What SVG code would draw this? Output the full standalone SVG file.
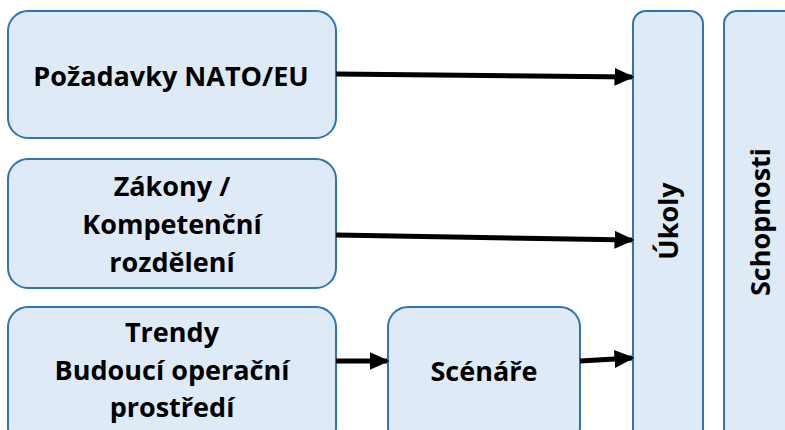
<svg xmlns="http://www.w3.org/2000/svg" width="785" height="430" viewBox="0 0 785 430">
<style>
.box{fill:#DEEAF6;stroke:#2E75B6;stroke-width:2}
.t{font-family:"Open Sans","Liberation Sans",sans-serif;font-weight:bold;font-size:27px;fill:#000;text-anchor:middle}
.c{stroke:#000;stroke-width:5;fill:none;marker-end:url(#ah)}
</style>
<defs>
<marker id="ah" markerWidth="4" markerHeight="3.6" refX="3.5" refY="1.8" orient="auto" markerUnits="strokeWidth" viewBox="0 0 4 3.6">
<path d="M0,0 L4,1.8 L0,3.6 Z" fill="#000"/>
</marker>
</defs>
<rect width="785" height="430" fill="#fff"/>
<g id="n1"><rect class="box" x="8" y="11" width="328" height="127" rx="20"/><text class="t" x="171" y="86">Požadavky NATO/EU</text></g>
<g id="n2"><rect class="box" x="8" y="159" width="328" height="129" rx="20"/><text class="t" x="172" y="196">Zákony /</text><text class="t" x="172" y="234">Kompetenční</text><text class="t" x="172" y="272">rozdělení</text></g>
<g id="n3"><rect class="box" x="8" y="307" width="328" height="140" rx="20"/><text class="t" x="172" y="342">Trendy</text><text class="t" x="172" y="380">Budoucí operační</text><text class="t" x="172" y="417">prostředí</text></g>
<g id="n4"><rect class="box" x="388" y="307" width="192" height="140" rx="20"/><text class="t" x="484" y="381">Scénáře</text></g>
<g id="n5"><rect class="box" x="633" y="11" width="70" height="440" rx="13"/><text class="t" transform="translate(678,221) rotate(-90)" x="0" y="0">Úkoly</text></g>
<g id="n6"><rect class="box" x="724" y="11" width="90" height="440" rx="13"/><text class="t" transform="translate(770,222) rotate(-90)" x="0" y="0">Schopnosti</text></g>
<g id="connectors">
<line class="c" x1="336" y1="74" x2="632" y2="77"/>
<line class="c" x1="336" y1="235" x2="632" y2="240"/>
<line class="c" x1="336" y1="361" x2="387" y2="361"/>
<line class="c" x1="580" y1="361" x2="632" y2="358"/>
</g>
</svg>
